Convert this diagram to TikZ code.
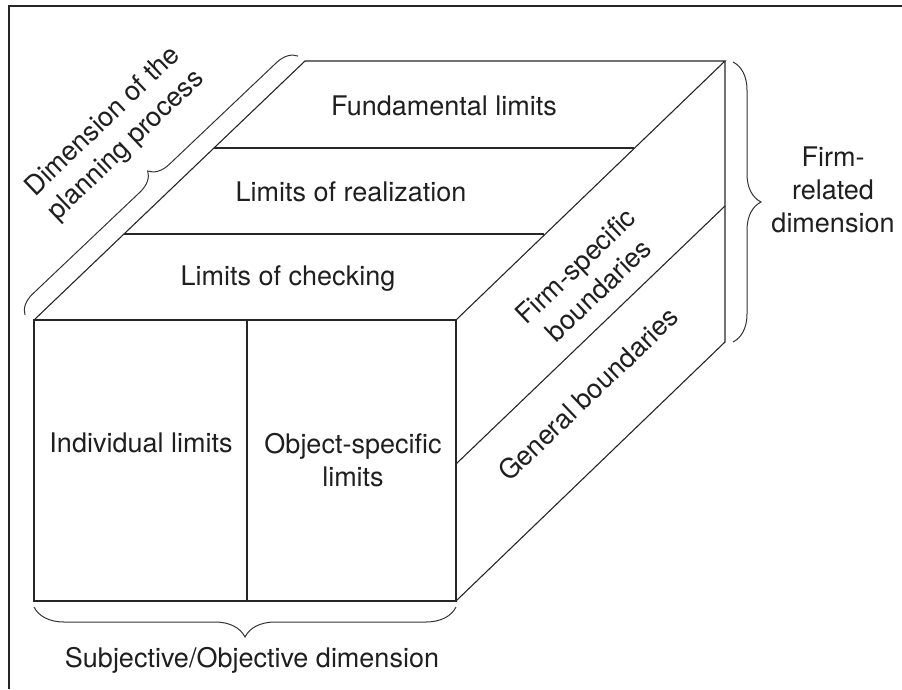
\documentclass[tikz,border=0pt]{standalone}
\usepackage{fontspec}
\setmainfont{TeX Gyre Heros}
\usetikzlibrary{decorations.pathreplacing}
\begin{document}
\begin{tikzpicture}[x=1pt,y=-1pt,
  edge/.style={line width=1.1pt,draw=black!85},
  frameline/.style={line width=2.6pt,draw=black!85},
  lbl/.style={font=\fontsize{27}{33}\selectfont,text=black!88,align=center,inner sep=0pt},
  bracestyle/.style={line width=1pt,draw=black!80,decorate,decoration={brace,amplitude=#1}}
]
\useasboundingbox (0,0) rectangle (902,689);
% frame
\coordinate (fbl) at (9,689);
\coordinate (ftl) at (9,6);
\coordinate (ftr) at (902,6);
\draw[frameline] (fbl) -- (ftl) -- (ftr);
% cube corners
\coordinate (A) at (34,320);   % front top left
\coordinate (B) at (456,320);  % front top right
\coordinate (C) at (456,601);  % front bottom right
\coordinate (D) at (34,601);   % front bottom left
\coordinate (E) at (305,61);   % back top left
\coordinate (F) at (725,61);   % back top right
\coordinate (G) at (725,342);  % back bottom right
\coordinate (M1) at (247,320);
\coordinate (M2) at (247,601);
\coordinate (T1l) at (214,148);
\coordinate (T1r) at (634,148);
\coordinate (T2l) at (124,234);
\coordinate (T2r) at (544,234);
\coordinate (R1) at (456,464);
\coordinate (R2) at (725,206);
% cube edges
\draw[edge] (A) -- (B) -- (C) -- (D) -- cycle;
\draw[edge] (M1) -- (M2);
\draw[edge] (A) -- (E) -- (F) -- (B);
\draw[edge] (F) -- (G) -- (C);
\draw[edge] (T1l) -- (T1r);
\draw[edge] (T2l) -- (T2r);
\draw[edge] (R1) -- (R2);
% braces
\coordinate (b1s) at (25,315);
\coordinate (b1e) at (298,56);
\draw[bracestyle=20pt] (b1s) -- (b1e);
\coordinate (b2s) at (733,62);
\coordinate (b2e) at (733,342);
\draw[bracestyle=28pt] (b2s) -- (b2e);
\coordinate (b3s) at (456,607);
\coordinate (b3e) at (34,607);
\draw[bracestyle=30pt] (b3s) -- (b3e);
% labels
\node[lbl] (fund) at (444,106) {Fundamental limits};
\node[lbl] (real) at (351,192) {Limits of realization};
\node[lbl] (check) at (288,279) {Limits of checking};
\node[lbl] (indiv) at (141,443) {Individual limits};
\node[lbl] (obj) at (353,460) {Object-specific\\limits};
\node[lbl,rotate=43.7] (firmspec) at (587,278) {Firm-specific\\boundaries};
\node[lbl,rotate=43.7] (gen) at (588,394) {General boundaries};
\node[lbl,rotate=43.7] (plan) at (115,134) {Dimension of the\\planning process};
\node[lbl] (firmrel) at (833,190) {Firm-\\related\\dimension};
\node[lbl] (subj) at (252,660) {Subjective/Objective dimension};
\end{tikzpicture}
\end{document}
